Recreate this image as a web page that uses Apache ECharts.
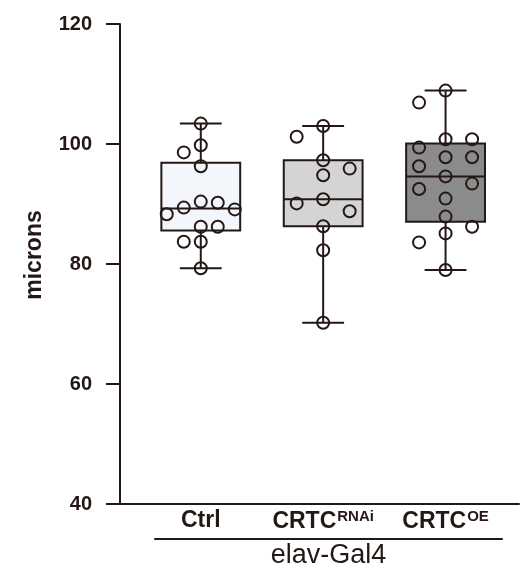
<!DOCTYPE html>
<html>
<head>
<meta charset="utf-8">
<script src="https://cdn.jsdelivr.net/npm/echarts@6/dist/echarts.min.js"></script>
<style>
  html, body { margin: 0; padding: 0; background: #ffffff; }
  #chart { width: 523px; height: 572px; }
</style>
</head>
<body>
<div id="chart"></div>
<script>
// Neurite length per genotype (microns), all under elav-Gal4
const groupNames = ['Ctrl', 'CRTC^RNAi', 'CRTC^OE'];
const ctrlValues = [103.4, 99.8, 98.6, 96.3, 90.4, 90.2, 89.4, 89.1, 88.3, 86.2, 86.2, 83.7, 83.7, 79.3];
const rnaiValues = [103.0, 101.2, 97.3, 95.9, 94.8, 90.8, 90.1, 88.8, 86.3, 82.3, 70.2];
const oeValues = [108.9, 106.9, 100.8, 100.8, 99.4, 97.8, 97.8, 96.3, 94.6, 93.4, 92.5, 90.9, 87.9, 86.2, 85.1, 83.6, 79.0];
const yTickValues = [40, 60, 80, 100, 120];
const driverLabel = 'elav-Gal4';
const yAxisTitle = 'microns';

const groupValues = [ctrlValues, rnaiValues, oeValues];

// Styling / layout
const INK = '#231815';
const BOX_FILLS = ['#f3f7fb', '#d4d4d4', '#8b8b8b'];
const FONT = '"Liberation Sans", Arial, Helvetica, sans-serif';
const GRID = { left: 120, right: 4, top: 24, bottom: 68 };
const CHART_W = 523, CHART_H = 572;
const X_MIN = -0.66, X_MAX = 2.6;
const Y_MIN = yTickValues[0], Y_MAX = yTickValues[yTickValues.length - 1];
const BOX_HALF = 0.322;   // half box width in x units
const CAP_HALF = 0.171;   // half whisker-cap width in x units
const DOT_SIZE = 12;

const pxPerX = (CHART_W - GRID.left - GRID.right) / (X_MAX - X_MIN);
const pxPerY = (CHART_H - GRID.top - GRID.bottom) / (Y_MAX - Y_MIN);

// Quartiles with the (n + 1)p rule
function quantile(sorted, p) {
  const n = sorted.length;
  const pos = (n + 1) * p;
  const lo = Math.floor(pos);
  if (lo < 1) return sorted[0];
  if (lo >= n) return sorted[n - 1];
  return sorted[lo - 1] + (pos - lo) * (sorted[lo] - sorted[lo - 1]);
}

const boxData = groupValues.map((vals, i) => {
  const s = vals.slice().sort((a, b) => a - b);
  return [i, s[0], quantile(s, 0.25), quantile(s, 0.5), quantile(s, 0.75), s[s.length - 1]];
});

// Simple beeswarm: points go to the nearest free lane, balancing sides
function swarm(vals, gi) {
  const minGap = 13 / pxPerY; // vertical clearance in value units
  const order = vals.map((v, k) => k).sort((a, b) => vals[b] - vals[a]);
  const lanes = new Array(vals.length);
  const placed = {};
  let left = 0, right = 0;
  order.forEach(k => {
    const v = vals[k];
    const free = l => !(placed[l] || []).some(u => Math.abs(u - v) < minGap);
    let chosen = null;
    for (let d = 0; chosen === null; d++) {
      if (d === 0) { if (free(0)) chosen = 0; continue; }
      const prefer = left <= right ? [-d, d] : [d, -d];
      for (const l of prefer) { if (free(l)) { chosen = l; break; } }
    }
    (placed[chosen] = placed[chosen] || []).push(v);
    if (chosen < 0) left++; else if (chosen > 0) right++;
    lanes[k] = chosen;
  });
  const maxLane = Math.max(...lanes.map(Math.abs));
  const laneCount = 2 * maxLane + 1;
  const stepPx = Math.min(26.5, 85 / laneCount);
  return vals.map((v, k) => [gi + lanes[k] * stepPx / pxPerX, v]);
}

const dotData = [];
groupValues.forEach((vals, gi) => swarm(vals, gi).forEach(p => dotData.push(p)));

function labelFor(name) {
  const parts = name.split('^');
  return parts.length > 1 ? '{b|' + parts[0] + '}{sup|' + parts[1] + '}' : '{b|' + parts[0] + '}';
}

function renderBox(params, api) {
  const i = api.value(0);
  const lo = api.coord([i, api.value(1)]);
  const q1 = api.coord([i, api.value(2)]);
  const med = api.coord([i, api.value(3)]);
  const q3 = api.coord([i, api.value(4)]);
  const hi = api.coord([i, api.value(5)]);
  const cx = med[0];
  const hb = api.size([BOX_HALF, 0])[0];
  const hc = api.size([CAP_HALF, 0])[0];
  const ls = { stroke: INK, lineWidth: 2, fill: null };
  return {
    type: 'group',
    children: [
      { type: 'line', shape: { x1: cx, y1: hi[1], x2: cx, y2: q3[1] }, style: ls },
      { type: 'line', shape: { x1: cx, y1: q1[1], x2: cx, y2: lo[1] }, style: ls },
      { type: 'line', shape: { x1: cx - hc, y1: hi[1], x2: cx + hc, y2: hi[1] }, style: ls },
      { type: 'line', shape: { x1: cx - hc, y1: lo[1], x2: cx + hc, y2: lo[1] }, style: ls },
      { type: 'rect', shape: { x: cx - hb, y: q3[1], width: 2 * hb, height: q1[1] - q3[1] },
        style: { fill: BOX_FILLS[i], stroke: INK, lineWidth: 2 } },
      { type: 'line', shape: { x1: cx - hb, y1: med[1], x2: cx + hb, y2: med[1] }, style: ls }
    ]
  };
}

const chart = echarts.init(document.getElementById('chart'), null, { renderer: 'canvas' });
chart.setOption({
  animation: false,
  backgroundColor: '#ffffff',
  grid: [
    { left: GRID.left, right: GRID.right, top: GRID.top, bottom: GRID.bottom },
    { left: 155, right: 21, top: 500, bottom: 33 }
  ],
  xAxis: [
    {
      type: 'value', gridIndex: 0, min: X_MIN, max: X_MAX,
      axisLine: { show: true, lineStyle: { color: INK, width: 2 } },
      axisTick: { show: false },
      splitLine: { show: false },
      axisLabel: {
        customValues: groupNames.map((n, i) => i),
        margin: 5,
        formatter: v => labelFor(groupNames[Math.round(v)]),
        rich: {
          b: { fontFamily: FONT, fontWeight: 'bold', fontSize: 23, color: INK },
          sup: { fontFamily: FONT, fontWeight: 'bold', fontSize: 15, color: INK, padding: [0, 0, 10, 1] }
        }
      }
    },
    {
      type: 'value', gridIndex: 1, min: 0, max: 1,
      axisLine: { show: true, lineStyle: { color: INK, width: 2 } },
      axisTick: { show: false },
      axisLabel: { show: false },
      splitLine: { show: false },
      name: driverLabel,
      nameLocation: 'middle',
      nameGap: 3,
      nameTextStyle: { fontFamily: FONT, fontSize: 27, color: INK, verticalAlign: 'top' }
    }
  ],
  yAxis: [
    {
      type: 'value', gridIndex: 0, min: Y_MIN, max: Y_MAX, interval: 20,
      axisLine: { show: true, onZero: false, lineStyle: { color: INK, width: 2 } },
      axisTick: { show: true, inside: false, length: 14, lineStyle: { color: INK, width: 2 } },
      splitLine: { show: false },
      axisLabel: { margin: 28, fontFamily: FONT, fontWeight: 'bold', fontSize: 20, color: INK },
      name: yAxisTitle,
      nameLocation: 'middle',
      nameGap: 74,
      nameTextStyle: { fontFamily: FONT, fontWeight: 'bold', fontSize: 23, color: INK, padding: [0, 0, 0, 18] }
    },
    { type: 'value', gridIndex: 1, show: false }
  ],
  series: [
    {
      type: 'custom',
      xAxisIndex: 0, yAxisIndex: 0,
      renderItem: renderBox,
      encode: { x: 0, y: [1, 2, 3, 4, 5] },
      data: boxData,
      clip: false,
      z: 1
    },
    {
      type: 'scatter',
      xAxisIndex: 0, yAxisIndex: 0,
      symbol: 'circle',
      symbolSize: DOT_SIZE,
      itemStyle: { color: 'rgba(255,255,255,0)', borderColor: INK, borderWidth: 2, opacity: 1 },
      data: dotData,
      z: 3
    }
  ]
});
</script>
</body>
</html>
